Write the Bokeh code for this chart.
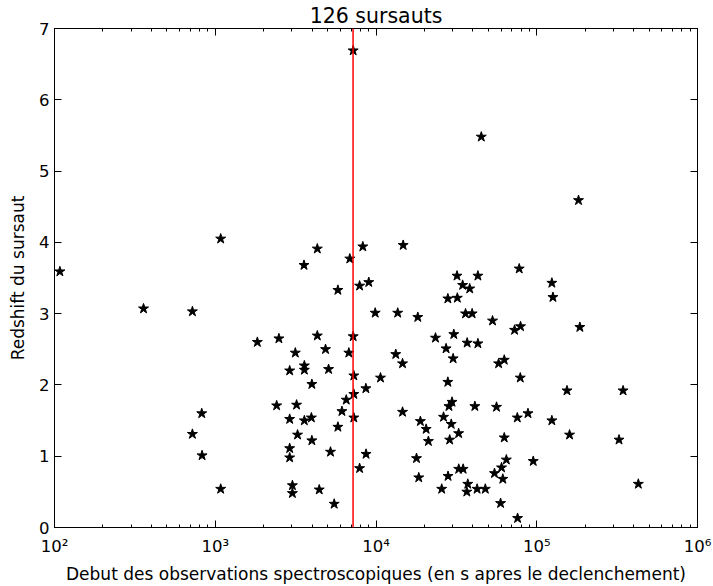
from bokeh.plotting import figure
from bokeh.models import Span, LogAxis, LinearAxis, FixedTicker, LogTicker
from bokeh.embed import file_html
from bokeh.resources import INLINE

# Start of spectroscopic observations (s after trigger) and redshift
delay_s = [108, 358, 721, 1081, 1828, 2489, 2410, 824, 721, 828, 1081,
           4315, 3565, 6871, 8279, 14757, 7211, 5794, 7907, 9016, 9886, 13646,
           18197, 4315, 7211, 23442, 3148, 4853, 6776, 13270, 14622, 3584, 3584,
           2904, 5070, 7278, 10666, 3990, 8650, 7278, 6531, 3206, 6138, 14622,
           2904, 3584, 3963, 7278, 18884, 5794, 20512, 3251, 3990, 21184, 2904,
           2904, 5212, 8673, 17865, 7907, 18450, 3020, 3020, 4436, 5495,
           31915, 27990, 32063, 30479, 27290, 30185, 27990, 29717, 28430, 26310,
           29380, 32660, 28730, 32700, 28070, 25630,
           77800, 43050, 34590, 38280, 124170, 126100, 36060, 39630, 53090, 72780,
           79280, 185400, 36900, 43050, 57900, 62800, 79000, 154200, 344400, 41210,
           56200, 75700, 88200, 124170, 62800, 160000, 325000, 64700, 95100, 60400,
           34830, 54600, 61500, 37240, 36730, 42560, 47860, 428500, 59570, 76000,
           45190, 181900]
redshift = [3.59, 3.07, 3.03, 4.05, 2.60, 2.65, 1.71, 1.60, 1.31, 1.01, 0.54,
            3.91, 3.68, 3.77, 3.94, 3.96, 6.69, 3.33, 3.39, 3.44, 3.01, 3.01,
            2.95, 2.69, 2.68, 2.66, 2.45, 2.50, 2.45, 2.43, 2.30, 2.27, 2.21,
            2.20, 2.22, 2.13, 2.10, 2.01, 1.95, 1.87, 1.79, 1.72, 1.63, 1.62,
            1.52, 1.50, 1.54, 1.54, 1.49, 1.41, 1.38, 1.30, 1.22, 1.21, 1.11,
            0.98, 1.06, 1.03, 0.97, 0.83, 0.70, 0.59, 0.48, 0.53, 0.33,
            3.53, 3.21, 3.22, 2.71, 2.51, 2.37, 2.04, 1.76, 1.70, 1.55,
            1.45, 1.32, 1.23, 0.82, 0.72, 0.54,
            3.63, 3.53, 3.40, 3.35, 3.43, 3.23, 3.00, 3.00, 2.90, 2.77,
            2.82, 2.81, 2.59, 2.58, 2.30, 2.35, 2.10, 1.92, 1.92, 1.70,
            1.69, 1.54, 1.60, 1.50, 1.26, 1.30, 1.23, 0.95, 0.93, 0.84,
            0.82, 0.76, 0.68, 0.61, 0.50, 0.54, 0.54, 0.61, 0.34, 0.13,
            5.48, 4.59]
threshold_s = 7200
y_ticks = [0, 1, 2, 3, 4, 5, 6, 7]
x_tick_labels = {100: "10²", 1000: "10³", 10000: "10⁴", 100000: "10⁵", 1000000: "10⁶"}
title_text = "126 sursauts"
x_label = "Debut des observations spectroscopiques (en s apres le declenchement)"
y_label = "Redshift du sursaut"

FONT = "DejaVu Sans"

p = figure(width=713, height=586, x_axis_type="log", x_range=(1e2, 1e6), y_range=(0, 7),
           output_backend="svg", toolbar_location=None, title=title_text,
           min_border_left=54, min_border_right=16, min_border_top=28, min_border_bottom=58)

p.title.align = "center"
p.title.text_font = FONT
p.title.text_font_size = "20.5px"
p.title.text_font_style = "normal"
p.title.text_color = "black"
p.title.standoff = 2

p.grid.visible = False
p.outline_line_color = "black"
p.outline_line_width = 1
p.background_fill_color = "white"

p.scatter(delay_s, redshift, marker="star", size=10.5, fill_color="black", line_color="black")

p.add_layout(Span(location=threshold_s, dimension="height", line_color="red", line_width=1.5))

# main axes
xa = p.xaxis[0]
xa.ticker = LogTicker(num_minor_ticks=10)
xa.major_label_overrides = x_tick_labels
xa.axis_label = x_label
ya = p.yaxis[0]
ya.ticker = FixedTicker(ticks=y_ticks)
ya.axis_label = y_label

for ax in (xa, ya):
    ax.axis_label_text_font = FONT
    ax.axis_label_text_font_size = "17px"
    ax.axis_label_text_font_style = "normal"
    ax.axis_label_text_color = "black"
    ax.major_label_text_font = FONT
    ax.major_label_text_font_size = "16.5px"
    ax.major_label_text_color = "black"
    ax.axis_line_color = "black"
    ax.major_tick_line_color = "black"
    ax.minor_tick_line_color = "black"
    ax.major_tick_in = 7
    ax.major_tick_out = 0
    ax.minor_tick_in = 3
    ax.minor_tick_out = 0
ya.minor_tick_line_color = None
xa.major_label_standoff = 9
xa.axis_label_standoff = 5
ya.major_label_standoff = 5
ya.axis_label_standoff = 8

# mirrored axes (ticks only)
top = LogAxis(ticker=LogTicker(num_minor_ticks=10))
right = LinearAxis(ticker=FixedTicker(ticks=y_ticks))
for ax in (top, right):
    ax.major_label_text_font_size = "1px"
    ax.major_label_text_alpha = 0
    ax.major_label_standoff = 0
    ax.axis_line_color = "black"
    ax.major_tick_line_color = "black"
    ax.minor_tick_line_color = "black"
    ax.major_tick_in = 7
    ax.major_tick_out = 0
    ax.minor_tick_in = 3
    ax.minor_tick_out = 0
right.minor_tick_line_color = None
p.add_layout(top, "above")
p.add_layout(right, "right")

open("out.html", "w").write(file_html(p, INLINE))
